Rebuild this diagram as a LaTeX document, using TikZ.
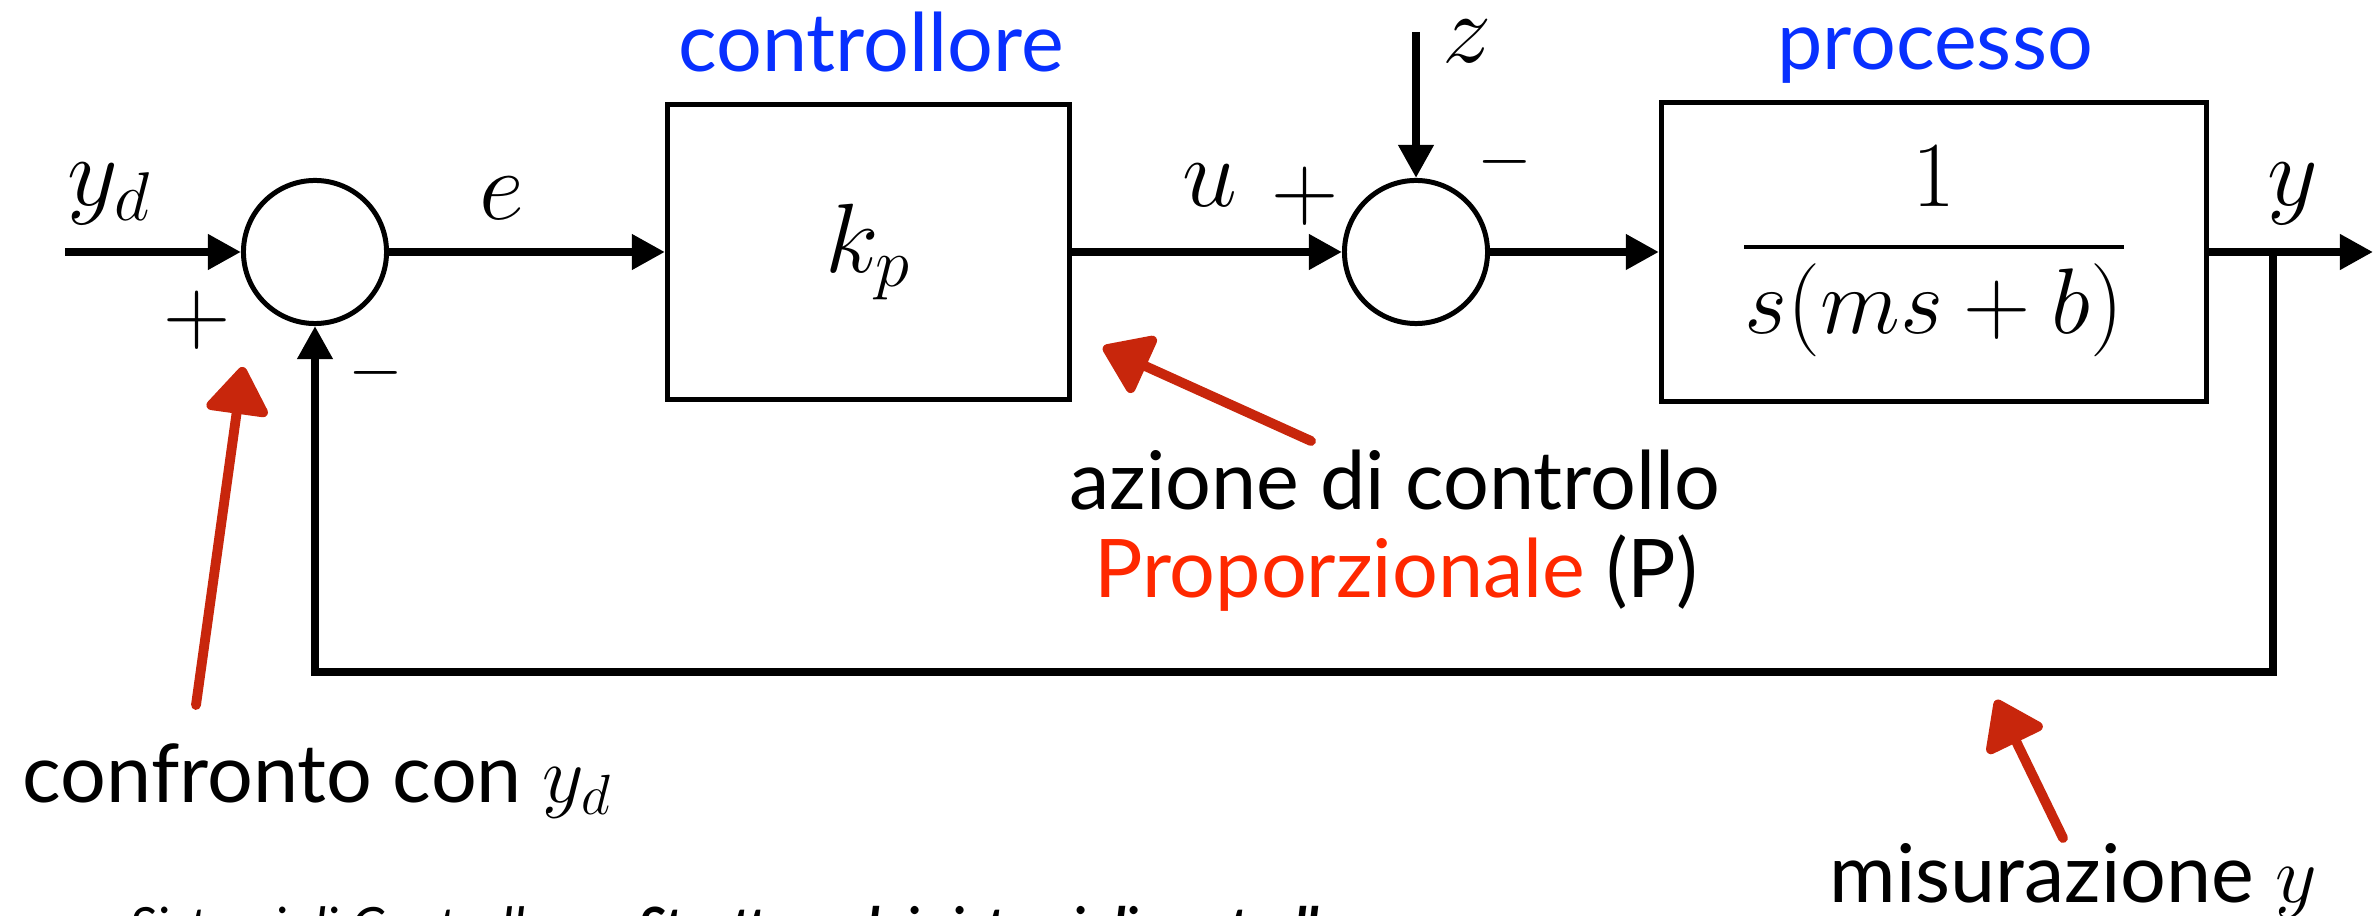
\RequirePackage{fix-cm}
\documentclass[tikz,border=0pt]{standalone}
\usepackage{amsmath}
\usepackage{fontspec}
\setmainfont{Lato}
\usetikzlibrary{arrows.meta}
\definecolor{lblue}{RGB}{8,48,255}
\definecolor{pred}{RGB}{255,40,0}
\definecolor{hred}{RGB}{200,38,12}
\begin{document}
\begin{tikzpicture}[x=0.01cm,y=-0.01cm,
  sig/.style={line width=2.27pt},
  arr/.style={sig,-{Triangle[length=9.4pt,width=9.6pt]}},
  sumnode/.style={circle,draw,line width=1.42pt,minimum size=1.43cm,inner sep=0pt},
  blk/.style={draw,line width=1.4pt,inner sep=0pt},
  mlab/.style={font=\fontsize{28}{30}\selectfont,inner sep=0pt,anchor=base},
  sgnp/.style={font=\fontsize{26.5}{28}\selectfont,inner sep=0pt},
  sgnm/.style={font=\fontsize{20}{22}\selectfont,inner sep=0pt},
  gill/.style={font=\fontsize{23}{27}\selectfont,inner sep=0pt,anchor=base},
  foot/.style={font=\fontsize{15}{17}\selectfont\itshape,inner sep=0pt,anchor=base west},
  harrow/.style={hred,line width=2.8pt,line cap=round,-{Triangle[length=14.5pt,width=19.5pt,round]}}
]
\useasboundingbox (0,0) rectangle (2373,916);
\clip (0,0) rectangle (2373,916);

% blocks
\node[sumnode] (c1) at (315,252) {};
\node[blk,minimum width=4.02cm,minimum height=2.95cm] (k) at (868.5,252) {\fontsize{28}{30}\selectfont $k_p$};
\node[sumnode] (c2) at (1416,252) {};
\node[blk,minimum width=5.45cm,minimum height=2.99cm] (p) at (1934,252) {\fontsize{26.5}{30}\selectfont $\displaystyle\genfrac{}{}{1.1pt}{}{1}{s(ms+b)}$};

% coordinates
\coordinate (in) at (65,252);
\coordinate (zin) at (1416,32);
\coordinate (br) at (2273,252);
\coordinate (out) at (2373,252);
\coordinate (fb) at (315,672);

% signals
\draw[arr] (in) -- (c1.west);
\draw[arr] (c1.east) -- (k.west);
\draw[arr] (k.east) -- (c2.west);
\draw[arr] (zin) -- (c2.north);
\draw[arr] (c2.east) -- (p.west);
\draw[arr] (p.east) -- (out);
\draw[arr] (br) |- (fb) -- (c1.south);

% math labels
\node[mlab] (lyd) at (109,206) {$y_d$};
\node[mlab] (le) at (502,220) {$e$};
\node[mlab] (lu) at (1210,207) {$u$};
\node[mlab] (lz) at (1467,63) {$z$};
\node[mlab] (ly) at (2293,206) {$y$};
\node[sgnp] (p1) at (197,320) {$+$};
\node[sgnm] (m1) at (376,373) {$-$};
\node[sgnp] (p2) at (1305,196) {$+$};
\node[sgnm] (m2) at (1505,162) {$-$};

% titles
\node[gill,text=lblue] (tc) at (871,72) {controllore};
\node[gill,text=lblue] (tp) at (1935,70) {processo};

% annotations
\node[gill] (az) at (1395,510) {azione di controllo};
\node[gill] (pp) at (1396,597) {\textcolor{pred}{Proporzionale} (P)};
\node[gill,anchor=base west] (cf) at (22,802) {confronto con $y_d$};
\node[gill,anchor=base west] (mi) at (1829,902) {misurazione $y$};

\coordinate (a1t) at (196,705); \coordinate (a1h) at (243,367);
\coordinate (a2t) at (1311,441); \coordinate (a2h) at (1103,347);
\coordinate (a3t) at (2063,838); \coordinate (a3h) at (1996,700);
\draw[harrow] (a1t) -- (a1h);
\draw[harrow] (a2t) -- (a2h);
\draw[harrow] (a3t) -- (a3h);

% footer (cut by the frame)
\node[foot] (f1) at (129,945) {Sistemi di Controllo -};
\node[foot,font=\fontsize{15}{17}\selectfont\bfseries\itshape] (f2) at (638,945) {Struttura dei sistemi di controllo};
\end{tikzpicture}
\end{document}
